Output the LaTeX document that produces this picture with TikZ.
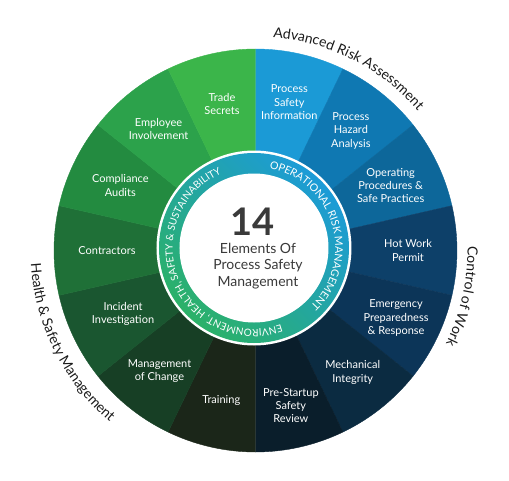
\documentclass[tikz,border=0pt]{standalone}
\usepackage{fontspec}
\setmainfont{Lato}
\usetikzlibrary{decorations.text}
% wedge colours, clockwise from the top
\definecolor{psi}{HTML}{1B9AD6}
\definecolor{pha}{HTML}{0F78B2}
\definecolor{opp}{HTML}{0D679A}
\definecolor{hwp}{HTML}{0D4069}
\definecolor{epr}{HTML}{0C3558}
\definecolor{mei}{HTML}{0B2B41}
\definecolor{psr}{HTML}{0A1E2B}
\definecolor{trn}{HTML}{1B2619}
\definecolor{moc}{HTML}{173F25}
\definecolor{inv}{HTML}{1A5630}
\definecolor{con}{HTML}{1F7037}
\definecolor{cau}{HTML}{238B40}
\definecolor{emp}{HTML}{2CA24B}
\definecolor{trs}{HTML}{3BB54A}
\definecolor{ringblue}{HTML}{1C9BD8}
\definecolor{ringgreen}{HTML}{2BB168}
\definecolor{hubgray}{HTML}{3A3A3A}
\definecolor{outtext}{HTML}{1A1A1A}
\begin{document}
\begin{tikzpicture}[x=1pt,y=1pt]
	% radii of the wheel
	\def\rout{201.5}
	\def\rborder{97.5}
	\def\rring{95}
	\def\rdisk{74.5}
	\def\segangle{360/14}
	% node style definition
	\tikzstyle{seglabel} = [text=white, align=center, inner sep=0pt, font=\fontsize{11}{13.3}\selectfont];
	\tikzstyle{hub} = [text=hubgray, align=center, inner sep=0pt];
	\useasboundingbox (-255.5,-229.5) rectangle (253.5,250.5);
	% wedges, clockwise from the top
	\newcounter{seg}; \setcounter{seg}{0};
	\foreach \col/\rad/\lbl in {psi/152/{Process\\Safety\\Information}, pha/153/{Process\\Hazard\\Analysis},
		opp/150/{Operating\\Procedures \&\\Safe Practices}, hwp/152.5/{Hot Work\\Permit},
		epr/156/{Emergency\\Preparedness\\\& Response}, mei/156/{Mechanical\\Integrity},
		psr/159/{Pre-Startup\\Safety\\Review}, trn/154/{Training}, moc/154/{Management\\of Change},
		inv/147/{Incident\\Investigation}, con/148.5/{Contractors}, cau/150/{Compliance\\Audits},
		emp/155.5/{Employee\\Involvement}, trs/150.5/{Trade\\Secrets}} {
		\addtocounter{seg}{1};
		\pgfmathsetmacro{\sa}{90-(\theseg-1)*\segangle}
		\pgfmathsetmacro{\ea}{\sa-\segangle}
		\pgfmathsetmacro{\ma}{\sa-\segangle/2}
		\fill[\col, draw=\col, line width=0.4pt] (0,0) -- (\sa:\rout) arc[start angle=\sa, end angle=\ea, radius=\rout] -- cycle;
		\node[seglabel] (lbl\theseg) at (\ma:\rad) {\lbl};
	}
	% inner ring
	\begin{scope}[shift={(-1.5,2.5)}]
		\fill[white] (0,0) circle[radius=\rborder];
		\shade[top color=ringblue, bottom color=ringgreen, shading angle=-45] (0,0) circle[radius=\rring];
		\fill[white] (0,0) circle[radius=\rdisk];
		\path[decorate, decoration={text along path, text align=center, text color=white,
			text={|\fontsize{10.6}{10.6}\selectfont|OPERATIONAL RISK MANAGEMENT}}]
			(101.6:81.3) arc[start angle=101.6, end angle=-68.4, radius=81.3];
		\path[decorate, decoration={text along path, text align=center, text color=white,
			text={|\fontsize{10.1}{10.1}\selectfont|ENVIRONMENT, HEALTH, SAFETY {\&} SUSTAINABILITY}}]
			(-38.5:81.3) arc[start angle=-38.5, end angle=-278.5, radius=81.3];
		\node[hub, font=\fontsize{38}{38}\selectfont\bfseries] (num) at (-1,26.5) {14};
		\node[hub, font=\fontsize{14}{16.7}\selectfont] (title) at (4,-18) {Elements Of\\Process Safety\\Management};
	\end{scope}
	% group titles round the wheel
	\path[decorate, decoration={text along path, text align=center, text color=outtext,
		text={|\fontsize{14}{14}\selectfont|Advanced Risk Assessment}}]
		(103:214) arc[start angle=103, end angle=23, radius=214];
	\path[decorate, decoration={text along path, text align=center, text color=outtext,
		text={|\fontsize{14}{14}\selectfont|Control of Work}}]
		(17.5:212) arc[start angle=17.5, end angle=-42.5, radius=212];
	\path[decorate, decoration={text along path, text align=center, text color=outtext,
		text={|\fontsize{14}{14}\selectfont|Health {\&} Safety Management}}]
		(166.5:225) arc[start angle=166.5, end angle=246.5, radius=225];
\end{tikzpicture}
\end{document}
